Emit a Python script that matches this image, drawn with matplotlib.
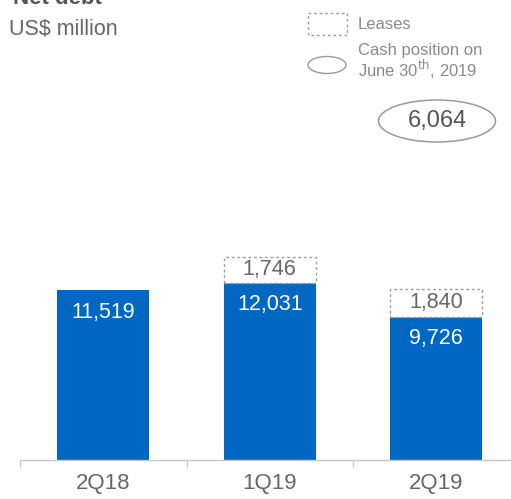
import matplotlib
matplotlib.use("Agg")
import matplotlib.pyplot as plt
from matplotlib.patches import Ellipse, Rectangle

plt.rcParams['font.family'] = ['Liberation Sans', 'DejaVu Sans']

# Data
quarters = ["2Q18", "1Q19", "2Q19"]
net_debt = [11519, 12031, 9726]
leases = [None, 1746, 1840]
cash_position = 6064

title = "Net debt"
unit = "US$ million"
legend_leases = "Leases"
legend_cash = "Cash position on\nJune 30$^{\\rm th}$, 2019"

BLUE = "#0068C2"
GRAY_TXT = "#666666"
LIGHT_TXT = "#8a8a8a"
EDGE = "#9a9a9a"

W, H = 511, 499
fig = plt.figure(figsize=(W / 100, H / 100), dpi=100)

# Bar axes: baseline at y=460 px, category spacing ~166.5 px
ax = fig.add_axes([20 / W, (H - 460) / H, 499.5 / W, 295 / H])
ax.set_xlim(-0.5, 2.5)
ax.set_ylim(0, 20000)
x = range(len(quarters))
bw = 0.553
bars = ax.bar(x, net_debt, width=bw, color=BLUE, zorder=2)
for xi, v, l in zip(x, net_debt, leases):
    ax.annotate(f"{v:,}", (xi, v), xytext=(0, -16), textcoords="offset points",
                ha="center", va="center", color="white", fontsize=15.5, zorder=3)
    if l is not None:
        ax.bar(xi, l, bottom=v, width=bw, facecolor="white", edgecolor=EDGE,
               linestyle=(0, (2, 2)), linewidth=1.0, zorder=2)
        ax.text(xi, v + l / 2, f"{l:,}", ha="center", va="center",
                color=GRAY_TXT, fontsize=15.5, zorder=3)

for s in ["top", "right", "left"]:
    ax.spines[s].set_visible(False)
ax.spines["bottom"].set_color("#c8c8c8")
ax.spines["bottom"].set_linewidth(1.0)
ax.set_yticks([])
ax.set_xticks(list(x))
ax.set_xticklabels(quarters, fontsize=16, color=GRAY_TXT)
ax.tick_params(axis="x", which="major", length=0, pad=9)
ax.set_xticks([-0.5, 0.5, 1.5, 2.5], minor=True)
ax.tick_params(axis="x", which="minor", length=5, color="#c8c8c8", width=1)
ax.set_clip_on(False)

# Overlay in pixel coordinates for header and legend
ov = fig.add_axes([0, 0, 1, 1])
ov.set_xlim(0, W)
ov.set_ylim(H, 0)
ov.axis("off")

ov.text(13, 4, title, fontsize=16, fontweight="bold", color="#555555",
        ha="left", va="baseline")
ov.text(9, 35, unit, fontsize=15.5, color=GRAY_TXT, ha="left", va="baseline")

ov.add_patch(Rectangle((308, 13), 39, 22, facecolor="none", edgecolor=EDGE,
                       linestyle=(0, (2, 2)), linewidth=1.0))
ov.text(358, 24, legend_leases, fontsize=12, color=LIGHT_TXT, ha="left", va="center")

ov.add_patch(Ellipse((327, 65), 38, 17, facecolor="none", edgecolor=EDGE, linewidth=1.0))
ov.text(358, 62, legend_cash, fontsize=12, color=LIGHT_TXT, ha="left", va="center",
        linespacing=0.95)

ov.add_patch(Ellipse((437, 121), 117, 42, facecolor="none", edgecolor=EDGE, linewidth=1.1))
ov.text(437, 121, f"{cash_position:,}", fontsize=17, color="#555555",
        ha="center", va="center")

fig.savefig("out.png", dpi=100)
